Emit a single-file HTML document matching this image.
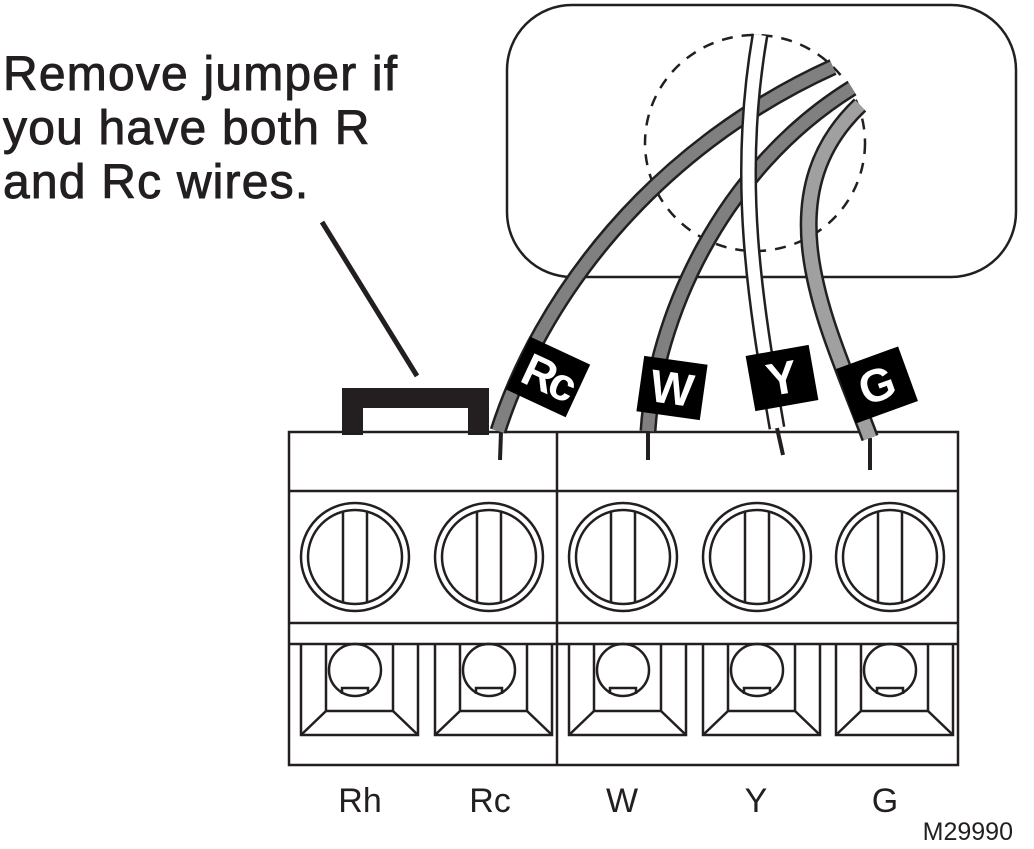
<!DOCTYPE html>
<html><head><meta charset="utf-8"><style>
html,body{margin:0;padding:0;background:#fff;}
svg{display:block;}
</style></head><body>
<svg width="1034" height="849" viewBox="0 0 1034 849" xmlns="http://www.w3.org/2000/svg" font-family="Liberation Sans, Arial, sans-serif">
<rect width="1034" height="849" fill="#fff"/>
<!-- thermostat base -->
<rect x="507" y="5" width="509" height="272" rx="65" ry="65" fill="none" stroke="#231f20" stroke-width="2.5"/>
<ellipse cx="755" cy="143" rx="110" ry="108" fill="none" stroke="#231f20" stroke-width="2.5" stroke-dasharray="11,9"/>
<!-- text -->
<g font-size="48" fill="#231f20" stroke="#231f20" stroke-width="0.9" letter-spacing="1.2">
<text x="3" y="90">Remove jumper if</text>
<text x="3" y="144">you have both R</text>
<text x="3" y="198">and Rc wires.</text>
</g>
<line x1="322" y1="222" x2="417" y2="376" stroke="#231f20" stroke-width="5"/>
<!-- jumper -->
<path d="M342,435 V388 H489 V435 H468 V408 H363 V435 Z" fill="#231f20"/>
<!-- terminal block -->
<g fill="none" stroke="#231f20" stroke-width="2.5">
<rect x="289" y="432" width="669" height="333"/>
<line x1="557" y1="432" x2="557" y2="765"/>
<line x1="289" y1="491" x2="958" y2="491"/>
<line x1="289" y1="623" x2="958" y2="623"/>
<line x1="289" y1="644" x2="958" y2="644"/>
</g>
<g fill="none" stroke="#231f20" stroke-width="2.5">
<g transform="translate(355,557)"><circle r="54"/><circle r="47"/><line x1="-12" y1="-46" x2="-12" y2="46"/><line x1="12" y1="-46" x2="12" y2="46"/></g>
<g transform="translate(489,557)"><circle r="54"/><circle r="47"/><line x1="-12" y1="-46" x2="-12" y2="46"/><line x1="12" y1="-46" x2="12" y2="46"/></g>
<g transform="translate(623,557)"><circle r="54"/><circle r="47"/><line x1="-12" y1="-46" x2="-12" y2="46"/><line x1="12" y1="-46" x2="12" y2="46"/></g>
<g transform="translate(757,557)"><circle r="54"/><circle r="47"/><line x1="-12" y1="-46" x2="-12" y2="46"/><line x1="12" y1="-46" x2="12" y2="46"/></g>
<g transform="translate(890,557)"><circle r="54"/><circle r="47"/><line x1="-12" y1="-46" x2="-12" y2="46"/><line x1="12" y1="-46" x2="12" y2="46"/></g>
</g>
<!-- clamps -->
<defs>
<g id="clamp" fill="none" stroke="#231f20" stroke-width="2.5">
<path d="M-54,644 V735 H63 V644"/>
<path d="M-29,644 V711 H38 V644"/>
<line x1="-29" y1="711" x2="-54" y2="735"/>
<line x1="38" y1="711" x2="63" y2="735"/>
<circle cx="0" cy="670" r="26"/>
<path d="M-13,694 V688 H13 V694" />
</g>
</defs>
<use href="#clamp" x="355"/>
<use href="#clamp" x="489"/>
<use href="#clamp" x="623"/>
<use href="#clamp" x="757"/>
<use href="#clamp" x="890"/>
<!-- stubs -->
<g stroke="#231f20" stroke-width="4">
<line x1="501" y1="432" x2="500" y2="460"/>
<line x1="648" y1="432" x2="648" y2="460"/>
<line x1="777" y1="428" x2="783" y2="455"/>
<line x1="870" y1="438" x2="870" y2="470"/>
</g>
<!-- wires -->
<g fill="none" stroke-linecap="butt">
<path d="M498,431 C540,300 650,150 833,67" stroke="#231f20" stroke-width="17"/>
<path d="M498,431 C540,300 650,150 833,67" stroke="#808080" stroke-width="12"/>
<path d="M648,431 C655,320 720,170 852,88" stroke="#231f20" stroke-width="17"/>
<path d="M648,431 C655,320 720,170 852,88" stroke="#808080" stroke-width="12"/>
<path d="M777,428 C755,300 735,180 760,35" stroke="#231f20" stroke-width="17"/>
<path d="M777,428 C755,300 735,180 760,35" stroke="#fff" stroke-width="12"/>
<path d="M870,438 C830,330 760,200 860,105" stroke="#231f20" stroke-width="18"/>
<path d="M870,438 C830,330 760,200 860,105" stroke="#a0a0a0" stroke-width="13"/>
</g>
<!-- tags -->
<g font-weight="bold" text-anchor="middle">
<g transform="translate(548,377) rotate(25)"><rect x="-33" y="-29" width="66" height="58" fill="#000"/><text x="0" y="16" font-size="46" fill="#fff" letter-spacing="-4">Rc</text></g>
<g transform="translate(672,388) rotate(8)"><rect x="-32" y="-28" width="64" height="56" fill="#000"/><text x="0" y="16" font-size="46" fill="#fff">W</text></g>
<g transform="translate(782,378) rotate(-10)"><rect x="-32" y="-28" width="64" height="56" fill="#000"/><text x="0" y="16" font-size="46" fill="#fff">Y</text></g>
<g transform="translate(877,385) rotate(-20)"><rect x="-33" y="-29" width="66" height="58" fill="#000"/><text x="0" y="16" font-size="46" fill="#fff">G</text></g>
</g>
<!-- bottom labels -->
<g font-size="34" fill="#231f20" text-anchor="middle">
<text x="360" y="812">Rh</text>
<text x="490" y="812">Rc</text>
<text x="622" y="812">W</text>
<text x="756" y="812">Y</text>
<text x="885" y="812">G</text>
</g>
<text x="1013" y="840" font-size="25" fill="#231f20" text-anchor="end">M29990</text>
</svg>
</body></html>
